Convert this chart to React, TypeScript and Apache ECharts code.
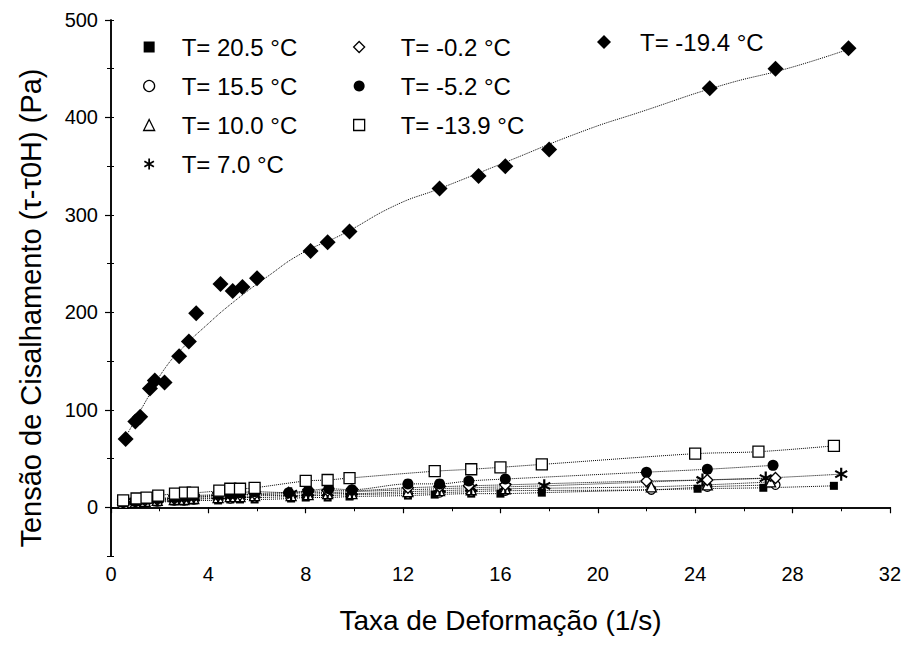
import React, { useEffect, useRef } from "react";
import * as echarts from "echarts";

// ---- data ----
const yLabelValues = [0, 100, 200, 300, 400, 500];

const names = [
  "T= 20.5 °C",
  "T= 15.5 °C",
  "T= 10.0 °C",
  "T= 7.0 °C",
  "T= -0.2 °C",
  "T= -5.2 °C",
  "T= -13.9 °C",
  "T= -19.4 °C",
];

const x205 = [0.5, 1.0, 1.4, 1.9, 2.6, 3.0, 3.4, 4.4, 4.9, 5.3, 5.9, 7.4, 8.0, 8.9, 9.8, 12.2, 13.3, 14.8, 16.0, 17.7, 24.1, 26.8, 29.7];
const y205 = [3, 4, 4, 5, 6, 6, 7, 7, 8, 8, 8, 9, 10, 10, 11, 12, 13, 14, 14, 15, 19, 20, 22];

const x155 = [0.5, 1.0, 1.4, 1.9, 2.6, 3.0, 3.4, 4.4, 4.9, 5.3, 5.9, 7.4, 8.1, 8.9, 9.9, 12.2, 13.5, 14.8, 16.2, 22.2, 24.5, 27.3];
const y155 = [4, 5, 5, 6, 7, 7, 8, 9, 9, 10, 10, 11, 12, 12, 13, 14, 15, 16, 17, 18, 21, 23];

const x100 = [0.5, 1.0, 1.4, 1.9, 2.6, 3.0, 3.4, 4.4, 4.9, 5.3, 5.9, 7.4, 8.1, 8.9, 9.9, 12.2, 13.5, 14.8, 16.2, 22.2, 24.5, 27.1];
const y100 = [4, 5, 6, 7, 8, 8, 9, 10, 11, 11, 12, 12, 13, 14, 14, 16, 17, 18, 19, 21, 23, 26];

const x70 = [0.5, 1.0, 1.4, 1.9, 2.6, 3.0, 3.4, 4.4, 4.9, 5.3, 5.9, 7.4, 8.1, 8.9, 9.9, 13.5, 14.8, 16.2, 17.8, 24.3, 26.9, 30.0];
const y70 = [5, 6, 7, 8, 9, 10, 10, 12, 12, 13, 13, 14, 15, 15, 16, 19, 20, 21, 22, 28, 30, 34];

const xm02 = [0.5, 1.0, 1.4, 1.9, 2.6, 3.0, 3.4, 4.4, 4.9, 5.3, 5.9, 7.3, 8.1, 8.9, 9.9, 12.2, 13.5, 14.7, 16.2, 22.0, 24.5, 27.3];
const ym02 = [5, 6, 7, 8, 9, 10, 11, 12, 13, 13, 14, 15, 16, 17, 17, 20, 21, 22, 23, 27, 28, 30];

const xm52 = [0.5, 1.0, 1.4, 1.9, 2.6, 3.0, 3.4, 4.4, 4.9, 5.3, 5.9, 7.3, 8.1, 8.95, 9.9, 12.2, 13.5, 14.7, 16.2, 22.0, 24.5, 27.2];
const ym52 = [5, 6, 8, 9, 10, 11, 12, 13, 14, 15, 16, 15, 17, 19, 18, 24, 24, 27, 29, 36, 39, 43];

const xm139 = [0.5, 1.05, 1.46, 1.94, 2.63, 3.04, 3.36, 4.45, 4.9, 5.3, 5.9, 8.0, 8.9, 9.8, 13.3, 14.8, 16.0, 17.7, 24.0, 26.6, 29.7];
const ym139 = [7, 9, 10, 12, 14, 15, 15, 17, 19, 19, 20, 27, 28, 30, 37, 39, 41, 44, 55, 57, 63];

const xm194 = [0.6, 1.0, 1.2, 1.6, 1.8, 2.2, 2.8, 3.2, 3.5, 4.5, 5.0, 5.4, 6.0, 8.2, 8.9, 9.8, 13.5, 15.1, 16.2, 18.0, 24.6, 27.3, 30.3];
const ym194 = [70, 88, 93, 122, 130, 128, 155, 170, 199, 229, 222, 226, 235, 263, 272, 283, 327, 340, 350, 367, 430, 450, 471];

// dotted fit curve of the -19.4 °C series
const fitX194 = [0.6, 1.5, 2.2, 3.0, 3.8, 5.0, 6.5, 7.8, 9.5, 11.7, 13.5, 16.0, 19.4, 21.8, 25.1, 27.9, 30.3];
const fitY194 = [72, 112, 142, 165, 184, 210, 238, 260, 280, 310, 327, 352, 386, 406, 433, 451, 470];

const ASTERISK =
  "path://M-1.6,-10L1.6,-10L1.6,10L-1.6,10Z" +
  "M-9.46,-3.61L-7.86,-6.39L9.46,3.61L7.86,6.39Z" +
  "M7.86,-6.39L9.46,-3.61L-7.86,6.39L-9.46,3.61Z";

const pairs = (xs: number[], ys: number[]) => xs.map((x, i) => [x, ys[i]]);

const FONT = "Liberation Sans, Arial, sans-serif";
const filled = { color: "#000", borderColor: "#000", borderWidth: 0, opacity: 1 };
const open = { color: "#fff", borderColor: "#000", borderWidth: 1.3, opacity: 1 };

const specs = [
  { name: names[0], xs: x205, ys: y205, symbol: "rect", size: 8, style: filled },
  { name: names[1], xs: x155, ys: y155, symbol: "circle", size: 9, style: open },
  { name: names[2], xs: x100, ys: y100, symbol: "triangle", size: 10, style: open },
  { name: names[3], xs: x70, ys: y70, symbol: ASTERISK, size: 13, style: filled },
  { name: names[4], xs: xm02, ys: ym02, symbol: "diamond", size: 11, style: open },
  { name: names[5], xs: xm52, ys: ym52, symbol: "circle", size: 11, style: filled },
  { name: names[6], xs: xm139, ys: ym139, symbol: "rect", size: 11, style: open },
];

export default function App() {
  const ref = useRef<HTMLDivElement>(null);
  useEffect(() => {
    if (!ref.current) return;
    const chart = echarts.init(ref.current, undefined, { renderer: "svg" });

    const legendItem = (i: number, icon: string, style: any) => ({
      name: names[i],
      icon,
      itemStyle: style,
    });

    const legendBase = {
      orient: "vertical" as const,
      padding: 0,
      itemWidth: 11,
      itemHeight: 11,
      itemGap: 15,
      selectedMode: false,
      textStyle: {
        fontFamily: FONT,
        fontSize: 24,
        color: "#000",
        padding: [0, 0, 0, 22],
      },
    };

    const option: any = {
      animation: false,
      backgroundColor: "#fff",
      grid: { left: 99, right: 6, top: 12, bottom: 72 },
      legend: [
        {
          ...legendBase,
          left: 135,
          top: 27,
          data: [
            legendItem(0, "rect", filled),
            legendItem(1, "circle", open),
            legendItem(2, "triangle", open),
            legendItem(3, ASTERISK, filled),
          ],
        },
        {
          ...legendBase,
          left: 345,
          top: 27,
          textStyle: { ...legendBase.textStyle, padding: [0, 0, 0, 31] },
          data: [
            legendItem(4, "diamond", open),
            legendItem(5, "circle", filled),
            legendItem(6, "rect", open),
          ],
        },
        {
          ...legendBase,
          left: 589,
          top: 22,
          itemWidth: 14,
          itemHeight: 14,
          textStyle: { ...legendBase.textStyle, padding: [0, 0, 0, 24] },
          data: [legendItem(7, "diamond", filled)],
        },
      ],
      xAxis: [
        {
          type: "value",
          min: 0,
          max: 32,
          interval: 4,
          position: "bottom",
          name: "Taxa de Deformação (1/s)",
          nameLocation: "middle",
          nameGap: 50,
          nameTextStyle: { fontFamily: FONT, fontSize: 28, color: "#000" },
          axisLine: { lineStyle: { color: "#000", width: 1.5 } },
          axisTick: { show: true, length: 6, lineStyle: { color: "#000", width: 1.2 } },
          minorTick: { show: true, splitNumber: 2, length: 4, lineStyle: { color: "#000" } },
          splitLine: { show: false },
          axisLabel: { fontFamily: FONT, fontSize: 20, color: "#000", margin: 8 },
        },
        {
          type: "value",
          min: 0,
          max: 32,
          interval: 4,
          position: "top",
          axisLine: { lineStyle: { color: "#000", width: 1.5 } },
          axisTick: { show: true, inside: true, length: 4, lineStyle: { color: "#000" } },
          axisLabel: { show: false },
          splitLine: { show: false },
        },
      ],
      yAxis: [
        {
          type: "value",
          min: -50,
          max: 500,
          position: "left",
          name: "Tensão de Cisalhamento (τ-τ0H) (Pa)",
          nameLocation: "middle",
          nameGap: 66,
          nameTextStyle: { fontFamily: FONT, fontSize: 29, color: "#000", padding: [0, 40, 0, 0] },
          axisLine: { lineStyle: { color: "#000", width: 1.5 } },
          axisTick: { show: true, length: 6, customValues: yLabelValues, lineStyle: { color: "#000", width: 1.2 } },
          splitLine: { show: false },
          axisLabel: { fontFamily: FONT, fontSize: 20, color: "#000", margin: 13, customValues: yLabelValues },
        },
        {
          type: "value",
          min: -50,
          max: 500,
          interval: 50,
          position: "right",
          axisLine: { show: true, lineStyle: { color: "#000", width: 1.5 } },
          axisTick: { show: true, inside: true, length: 4, lineStyle: { color: "#000" } },
          axisLabel: { show: false },
          splitLine: { show: false },
        },
        {
          type: "value",
          min: -50,
          max: 500,
          interval: 50,
          position: "left",
          axisLine: { show: false },
          axisTick: { show: true, inside: true, length: 3, lineStyle: { color: "#000" } },
          axisLabel: { show: false },
          splitLine: { show: false },
        },
      ],
      series: [
        ...specs.map((s) => ({
          name: s.name,
          type: "line",
          data: pairs(s.xs, s.ys),
          symbol: s.symbol,
          symbolSize: s.size,
          showSymbol: true,
          smooth: 0.3,
          itemStyle: s.style,
          lineStyle: { type: "dotted", width: 1, color: "#000" },
          z: 3,
        })),
        {
          name: names[7],
          type: "scatter",
          data: pairs(xm194, ym194),
          symbol: "diamond",
          symbolSize: 16,
          itemStyle: filled,
          z: 4,
        },
        {
          name: "fit -19.4",
          type: "line",
          data: pairs(fitX194, fitY194),
          showSymbol: false,
          symbol: "none",
          smooth: true,
          lineStyle: { type: "dotted", width: 1, color: "#000" },
          z: 2,
        },
      ],
    };
    chart.setOption(option);
    return () => chart.dispose();
  }, []);

  return <div ref={ref} style={{ width: 896, height: 631 }} />;
}
